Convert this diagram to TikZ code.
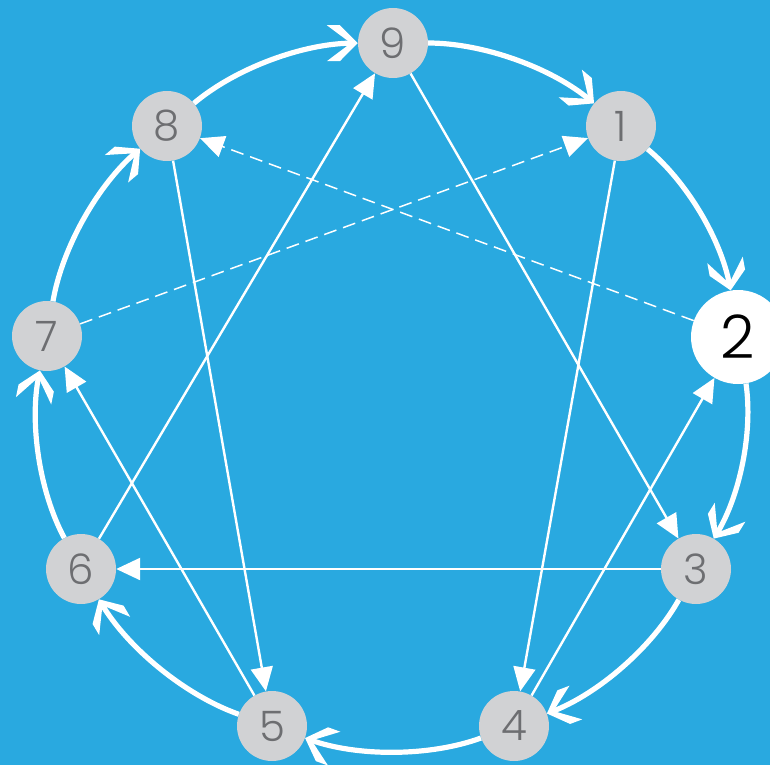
\documentclass[tikz,border=0pt]{standalone}
\usepackage{fontspec}
\setmainfont{Poppins Light}
\usetikzlibrary{arrows.meta}
\definecolor{bg}{HTML}{29A9E0}
\definecolor{nodegray}{HTML}{D1D2D4}
\definecolor{numgray}{HTML}{6D6E71}
\pgfdeclarearrow{
  name=Chev,
  setup code={
    \pgfarrowssettipend{0pt}
    \pgfarrowssetbackend{-31pt}
    \pgfarrowssetlineend{-5pt}
    \pgfarrowshullpoint{0pt}{0pt}
    \pgfarrowshullpoint{-18pt}{18pt}
    \pgfarrowshullpoint{-31pt}{18pt}
    \pgfarrowshullpoint{-31pt}{-18pt}
    \pgfarrowshullpoint{-18pt}{-18pt}
  },
  drawing code={
    \pgfpathmoveto{\pgfqpoint{0pt}{0pt}}
    \pgfpathlineto{\pgfqpoint{-18pt}{18pt}}
    \pgfpathlineto{\pgfqpoint{-31pt}{18pt}}
    \pgfpathlineto{\pgfqpoint{-7pt}{0pt}}
    \pgfpathlineto{\pgfqpoint{-31pt}{-18pt}}
    \pgfpathlineto{\pgfqpoint{-18pt}{-18pt}}
    \pgfpathclose
    \pgfusepathqfill
  }
}
\begin{document}
\begin{tikzpicture}[x=1pt,y=1pt,
  typ/.style={circle, fill=nodegray, minimum size=70pt, inner sep=0pt, text=numgray, font=\fontsize{42}{42}\selectfont},
  selnode/.style={circle, fill=white, minimum size=94pt, inner sep=0pt, text=black, font=\fontsize{60}{60}\selectfont},
  ring/.style={white, line width=5.2pt, -{Chev}, bend left=20, looseness=0.8},
  chord/.style={white, line width=2.4pt, -{Triangle[length=24pt,width=22pt]}},
  dchord/.style={white, line width=1.5pt, dash pattern=on 13pt off 7pt, -{Triangle[length=24pt,width=22pt]}}]
\fill[bg] (0,0) rectangle (770,-765);
\useasboundingbox (0,0) rectangle (770,-765);
\node[typ] (n9) at (393,-43) {9};
\node[typ] (n1) at (621,-126) {1};
\node[selnode] (n2) at (738,-337) {2};
\node[typ] (n3) at (696,-569) {3};
\node[typ] (n4) at (514,-726) {4};
\node[typ] (n5) at (272,-726) {5};
\node[typ] (n6) at (81,-569) {6};
\node[typ] (n7) at (47,-336) {7};
\node[typ] (n8) at (167,-126) {8};
% outer ring
\draw[ring] (n9) to (n1);
\draw[ring] (n1) to (n2);
\draw[ring] (n2) to (n3);
\draw[ring] (n3) to (n4);
\draw[ring] (n4) to (n5);
\draw[ring] (n5) to (n6);
\draw[ring] (n6) to (n7);
\draw[ring] (n7) to (n8);
\draw[ring] (n8) to (n9);
% inner lines
\draw[chord] (n1) -- (n4);
\draw[chord] (n4) -- (n2);
\draw[dchord] (n2) -- (n8);
\draw[chord] (n8) -- (n5);
\draw[chord] (n5) -- (n7);
\draw[dchord] (n7) -- (n1);
\draw[chord] (n9) -- (n3);
\draw[chord] (n3) -- (n6);
\draw[chord] (n6) -- (n9);
\end{tikzpicture}
\end{document}
